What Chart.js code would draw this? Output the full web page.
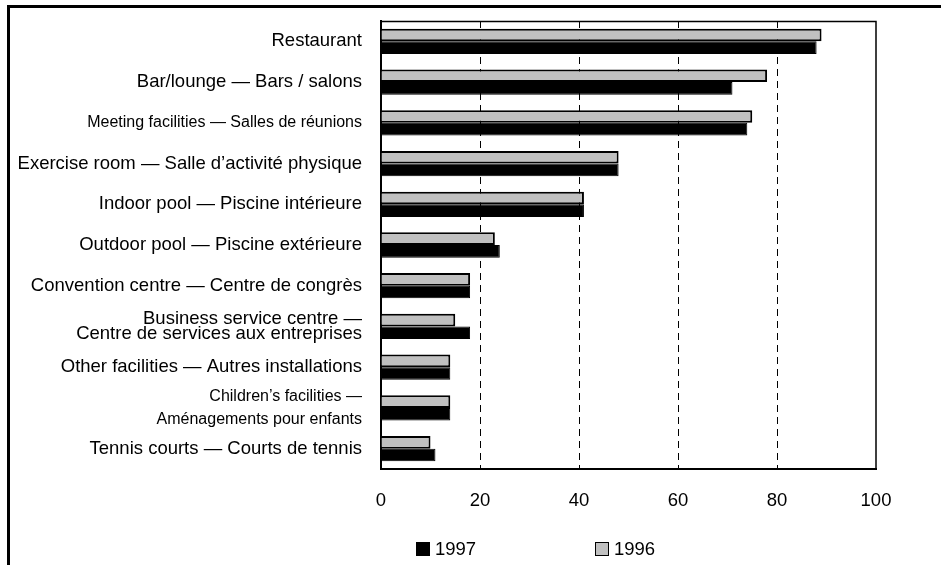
<!DOCTYPE html>
<html>
<head>
<meta charset="utf-8">
<script src="https://cdn.jsdelivr.net/npm/chart.js@4.4.0/dist/chart.umd.min.js"></script>
<style>
    html, body { margin: 0; padding: 0; background: #fff; overflow: hidden; }
    #wrap { position: relative; width: 941px; height: 565px; overflow: hidden; }
    #frame {
        position: absolute; left: 7px; top: 5px; width: 1200px; height: 1200px;
        border-left: 3px solid #000; border-top: 3px solid #000; box-sizing: border-box;
    }
    #chart { position: absolute; left: 0; top: 0; }
    .legend-item {
        position: absolute; top: 538px; font: 18.5px Arial, "Liberation Sans", sans-serif;
        color: #000; line-height: 22px; white-space: nowrap;
    }
    .legend-box {
        display: inline-block; width: 14px; height: 14px; box-sizing: border-box;
        vertical-align: -1px; margin-right: 5px;
    }
</style>
</head>
<body>
<div id="wrap">
    <div id="frame"></div>
    <canvas id="chart" width="941" height="565"></canvas>
    <div class="legend-item" style="left:416px"><span class="legend-box" style="background:#000"></span>1997</div>
    <div class="legend-item" style="left:595px"><span class="legend-box" style="background:#c0c0c0;border:1px solid #000"></span>1996</div>
</div>
<script>
// Data
const categories = [
    'Restaurant',
    'Bar/lounge — Bars / salons',
    'Meeting facilities — Salles de réunions',
    'Exercise room — Salle d’activité physique',
    'Indoor pool — Piscine intérieure',
    'Outdoor pool — Piscine extérieure',
    'Convention centre — Centre de congrès',
    ['Business service centre —', 'Centre de services aux entreprises'],
    'Other facilities — Autres installations',
    ['Children’s facilities —', 'Aménagements pour enfants'],
    'Tennis courts — Courts de tennis'
];
const values1996 = [89, 78, 75, 48, 41, 23, 18, 15, 14, 14, 10];
const values1997 = [88, 71, 74, 48, 41, 24, 18, 18, 14, 14, 11];
const xTicks = [0, 20, 40, 60, 80, 100];

const FONT = 'Arial, "Liberation Sans", sans-serif';

// top + right edges of the plot frame
const plotFrame = {
    id: 'plotFrame',
    afterDraw(chart) {
        const { ctx, chartArea: a } = chart;
        ctx.save();
        ctx.strokeStyle = '#000';
        ctx.lineWidth = 1.5;
        ctx.beginPath();
        ctx.moveTo(a.left, a.top + 0.5);
        ctx.lineTo(a.right, a.top + 0.5);
        ctx.lineTo(a.right, a.bottom);
        ctx.stroke();
        ctx.restore();
    }
};

new Chart(document.getElementById('chart'), {
    type: 'bar',
    data: {
        labels: categories,
        datasets: [
            {
                label: '1996',
                data: values1996,
                backgroundColor: '#c0c0c0',
                borderColor: '#000',
                borderWidth: 2
            },
            {
                label: '1997',
                data: values1997,
                backgroundColor: '#000',
                borderColor: '#000',
                borderWidth: 1
            }
        ]
    },
    options: {
        indexAxis: 'y',
        responsive: false,
        animation: false,
        categoryPercentage: 0.62,
        barPercentage: 1.0,
        layout: { padding: { top: 21, right: 65, left: 0, bottom: 0 } },
        plugins: {
            legend: { display: false },
            tooltip: { enabled: false }
        },
        scales: {
            x: {
                min: 0,
                max: 100,
                afterBuildTicks: scale => { scale.ticks = xTicks.map(v => ({ value: v })); },
                afterFit: scale => {
                    scale.height = 96;
                    scale.paddingLeft = 0;
                    scale.paddingRight = 0;
                },
                ticks: { color: '#000', font: { family: FONT, size: 18.5 }, padding: 21 },
                grid: {
                    drawTicks: false,
                    lineWidth: 1,
                    color: ctx => (ctx.tick && (ctx.tick.value === 0 || ctx.tick.value === 100)) ? 'rgba(0,0,0,0)' : '#000'
                },
                border: { display: true, color: '#000', width: 2, dash: [7, 5] }
            },
            y: {
                afterFit: scale => {
                    scale.width = 381;
                    scale.paddingTop = 0;
                    scale.paddingBottom = 0;
                },
                grid: { display: false, drawTicks: false },
                border: { display: true, color: '#000', width: 2 },
                ticks: {
                    color: '#000',
                    padding: 19,
                    autoSkip: false,
                    font: ctx => {
                        const i = ctx.index;
                        // these two are set in a condensed face in the original
                        if (i === 2) return { family: FONT, size: 16 };
                        if (i === 9) return { family: FONT, size: 16, lineHeight: 1.42 };
                        if (i === 7) return { family: FONT, size: 18.5, lineHeight: 0.84 };
                        return { family: FONT, size: 18.5 };
                    }
                }
            }
        }
    },
    plugins: [plotFrame]
});
</script>
</body>
</html>
